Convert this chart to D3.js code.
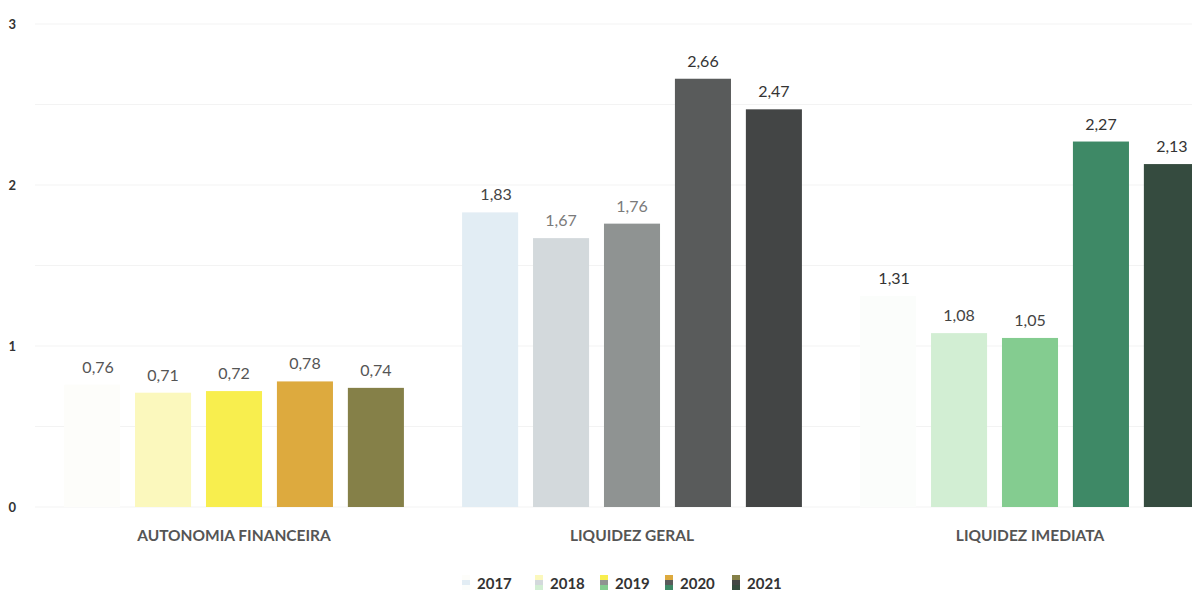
<!DOCTYPE html>
<html>
<head>
<meta charset="utf-8">
<script src="https://cdn.jsdelivr.net/npm/d3@7"></script>
<style>
  body { margin: 0; background: #fff; }
  svg { display: block; font-family: Lato, "Open Sans", sans-serif; }
</style>
</head>
<body>
<div id="chart"></div>
<script>
// data
var groups = ["AUTONOMIA FINANCEIRA", "LIQUIDEZ GERAL", "LIQUIDEZ IMEDIATA"];
var years = ["2017", "2018", "2019", "2020", "2021"];
var autonomia = [0.76, 0.71, 0.72, 0.78, 0.74];
var liqGeral = [1.83, 1.67, 1.76, 2.66, 2.47];
var liqImediata = [1.31, 1.08, 1.05, 2.27, 2.13];
var yTicks = [0, 1, 2, 3];

var series = [autonomia, liqGeral, liqImediata];

// each group has its own palette (one colour per year)
var palettes = [
  ["#fdfdfa", "#fbf8bd", "#f8ee4e", "#ddaa3e", "#858048"],
  ["#e2edf4", "#d3d9dc", "#8f9392", "#595b5b", "#434545"],
  ["#fbfdfb", "#d2eed3", "#84cc90", "#3e8966", "#354b3f"]
];
var labelColors = [
  ["#555", "#555", "#555", "#555", "#555"],
  ["#444", "#7a7a7a", "#7a7a7a", "#333", "#333"],
  ["#333", "#444", "#444", "#333", "#333"]
];

var width = 1192, height = 596;

const svg = d3.select("#chart")
  .append("svg")
    .attr("width", width)
    .attr("height", height);

// plot runs past the right edge, like the cropped scan
const x0 = d3.scaleBand()
  .domain(groups)
  .range([35, 1229]);

const x1 = d3.scaleBand()
  .domain(years)
  .range([0, x0.bandwidth()])
  .paddingInner(0.21)
  .paddingOuter(0.41);

const y = d3.scaleLinear()
  .domain([0, 3])
  .range([507, 24]);

// faint gridlines every 0.5
svg.append("g")
  .selectAll("line")
  .data(d3.range(0, 3.01, 0.5))
  .enter()
  .append("line")
    .attr("x1", 35)
    .attr("x2", width)
    .attr("y1", d => y(d))
    .attr("y2", d => y(d))
    .attr("stroke", "#f3f3f3")
    .attr("stroke-width", 1);

// y axis labels only
const yAxis = svg.append("g")
  .attr("transform", "translate(20,0)")
  .call(d3.axisLeft(y).tickValues(yTicks).tickSize(0).tickPadding(0).tickFormat(d3.format("d")));
yAxis.select(".domain").remove();
yAxis.selectAll("text")
  .attr("x", -4)
  .style("font-family", "Lato, sans-serif")
  .style("font-size", "13px")
  .style("font-weight", "bold")
  .attr("fill", "#333");

const fmt = v => d3.format(".2f")(v).replace(".", ",");

const g = svg.selectAll(".grp")
  .data(groups)
  .enter()
  .append("g")
    .attr("class", "grp")
    .attr("transform", d => `translate(${x0(d)},0)`);

g.selectAll("rect")
  .data((d, i) => series[i].map((v, j) => ({ v: v, year: years[j], gi: i, j: j })))
  .enter()
  .append("rect")
    .attr("x", d => x1(d.year))
    .attr("y", d => y(d.v))
    .attr("width", x1.bandwidth())
    .attr("height", d => y(0) - y(d.v))
    .attr("fill", d => palettes[d.gi][d.j]);

g.selectAll(".val")
  .data((d, i) => series[i].map((v, j) => ({ v: v, year: years[j], gi: i, j: j })))
  .enter()
  .append("text")
    .attr("class", "val")
    .attr("x", d => x1(d.year) + x1.bandwidth() / 2 + (d.j === 0 ? 6 : 0))
    .attr("y", d => y(d.v) - 12)
    .attr("text-anchor", "middle")
    .style("font-size", "16px")
    .attr("fill", d => labelColors[d.gi][d.j])
    .text(d => fmt(d.v));

// category labels
g.append("text")
  .attr("x", x0.bandwidth() / 2)
  .attr("y", 541)
  .attr("text-anchor", "middle")
  .style("font-size", "15.5px")
  .style("font-weight", "bold")
  .attr("fill", "#555")
  .text(d => d);

// legend: each swatch shows the three palettes stacked
var legendX = [462, 535, 600, 665, 732];
const leg = svg.selectAll(".leg")
  .data(years)
  .enter()
  .append("g")
    .attr("class", "leg")
    .attr("transform", (d, i) => `translate(${legendX[i]},575)`);

leg.each(function (d, i) {
  for (var k = 0; k < 3; k++) {
    d3.select(this).append("rect")
      .attr("x", 0)
      .attr("y", k * 5)
      .attr("width", 8)
      .attr("height", 5)
      .attr("fill", palettes[k][i]);
  }
});

leg.append("text")
  .attr("x", 15)
  .attr("y", 14)
  .style("font-size", "15px")
  .style("font-weight", "bold")
  .attr("fill", "#333")
  .text(d => d);
</script>
</body>
</html>
